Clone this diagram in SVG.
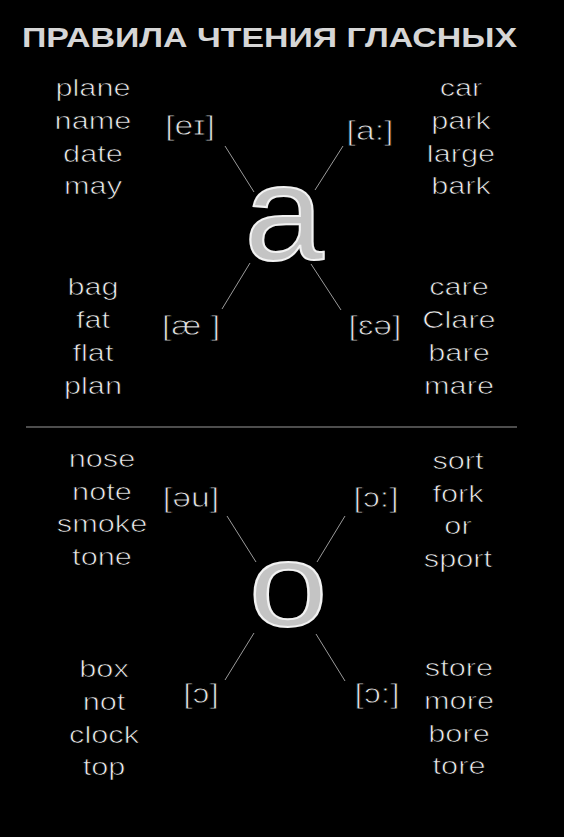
<svg xmlns="http://www.w3.org/2000/svg" width="564" height="837" viewBox="0 0 564 837">
<style>
.w{font-family:"Liberation Sans",Arial,sans-serif;font-size:24px;fill:#ececec;stroke:#000;stroke-width:0.7;text-anchor:middle}
.p{font-family:"Liberation Sans",Arial,sans-serif;font-size:27px;fill:#e2e2e2;stroke:#000;stroke-width:0.8;text-anchor:middle}
.big{font-family:"Liberation Sans",Arial,sans-serif;fill:#c4c4c4;stroke:#f2f2f2;stroke-width:2;text-anchor:middle}
.c line{stroke:#9a9a9a;stroke-width:1}
</style>
<rect width="564" height="837" fill="#000"/>
<text id="title" x="269.5" y="47" font-family="Liberation Sans,Arial,sans-serif" font-weight="bold" font-size="28" fill="#d6d6d6" text-anchor="middle" textLength="495" lengthAdjust="spacingAndGlyphs">ПРАВИЛА ЧТЕНИЯ ГЛАСНЫХ</text>

<g id="conn" class="c">
<line x1="225" y1="146" x2="254" y2="192"/>
<line x1="343" y1="146" x2="315" y2="190"/>
<line x1="250" y1="263" x2="222" y2="309"/>
<line x1="311" y1="264" x2="341" y2="310"/>
<line x1="227" y1="516" x2="256" y2="562"/>
<line x1="345" y1="516" x2="317" y2="562"/>
<line x1="254" y1="633" x2="225" y2="680"/>
<line x1="316" y1="634" x2="345" y2="681"/>
<line x1="26" y1="427" x2="517" y2="427" stroke="#cfcfcf" stroke-width="2"/>
</g>

<g id="letter-a"><text class="big" font-size="136" transform="translate(284,260) scale(1.05,1)">a</text></g>
<g id="letter-o"><text class="big" font-size="118" transform="translate(288,626) scale(1.2,1)">o</text></g>

<g id="a-ei">
<text class="w" transform="translate(93,96) scale(1.28,1)">plane</text>
<text class="w" transform="translate(93,129) scale(1.28,1)">name</text>
<text class="w" transform="translate(93,162) scale(1.28,1)">date</text>
<text class="w" transform="translate(93,194) scale(1.28,1)">may</text>
<text class="p" transform="translate(190,135) scale(1.25,1)">[eɪ]</text>
</g>
<g id="a-aa">
<text class="w" transform="translate(461,96) scale(1.28,1)">car</text>
<text class="w" transform="translate(461,129) scale(1.28,1)">park</text>
<text class="w" transform="translate(461,162) scale(1.28,1)">large</text>
<text class="w" transform="translate(461,194) scale(1.28,1)">bark</text>
<text class="p" transform="translate(370,140) scale(1.25,1)">[a:]</text>
</g>
<g id="a-ae">
<text class="w" transform="translate(93,295) scale(1.28,1)">bag</text>
<text class="w" transform="translate(93,328) scale(1.28,1)">fat</text>
<text class="w" transform="translate(93,361) scale(1.28,1)">flat</text>
<text class="w" transform="translate(93,394) scale(1.28,1)">plan</text>
<text class="p" transform="translate(191,335) scale(1.25,1)">[æ ]</text>
</g>
<g id="a-ea">
<text class="w" transform="translate(459,295) scale(1.28,1)">care</text>
<text class="w" transform="translate(459,328) scale(1.28,1)">Clare</text>
<text class="w" transform="translate(459,361) scale(1.28,1)">bare</text>
<text class="w" transform="translate(459,394) scale(1.28,1)">mare</text>
<text class="p" transform="translate(375,335) scale(1.25,1)">[ɛə]</text>
</g>

<g id="o-ou">
<text class="w" transform="translate(102,467) scale(1.28,1)">nose</text>
<text class="w" transform="translate(102,500) scale(1.28,1)">note</text>
<text class="w" transform="translate(102,532) scale(1.28,1)">smoke</text>
<text class="w" transform="translate(102,565) scale(1.28,1)">tone</text>
<text class="p" transform="translate(191,507) scale(1.25,1)">[əu]</text>
</g>
<g id="o-oo1">
<text class="w" transform="translate(458,469) scale(1.28,1)">sort</text>
<text class="w" transform="translate(458,502) scale(1.28,1)">fork</text>
<text class="w" transform="translate(458,534) scale(1.28,1)">or</text>
<text class="w" transform="translate(458,567) scale(1.28,1)">sport</text>
<text class="p" transform="translate(376,507) scale(1.25,1)">[ɔ:]</text>
</g>
<g id="o-o">
<text class="w" transform="translate(104,677) scale(1.28,1)">box</text>
<text class="w" transform="translate(104,710) scale(1.28,1)">not</text>
<text class="w" transform="translate(104,743) scale(1.28,1)">clock</text>
<text class="w" transform="translate(104,775) scale(1.28,1)">top</text>
<text class="p" transform="translate(201,703) scale(1.25,1)">[ɔ]</text>
</g>
<g id="o-oo2">
<text class="w" transform="translate(459,676) scale(1.28,1)">store</text>
<text class="w" transform="translate(459,709) scale(1.28,1)">more</text>
<text class="w" transform="translate(459,742) scale(1.28,1)">bore</text>
<text class="w" transform="translate(459,774) scale(1.28,1)">tore</text>
<text class="p" transform="translate(377,703) scale(1.25,1)">[ɔ:]</text>
</g>
</svg>
